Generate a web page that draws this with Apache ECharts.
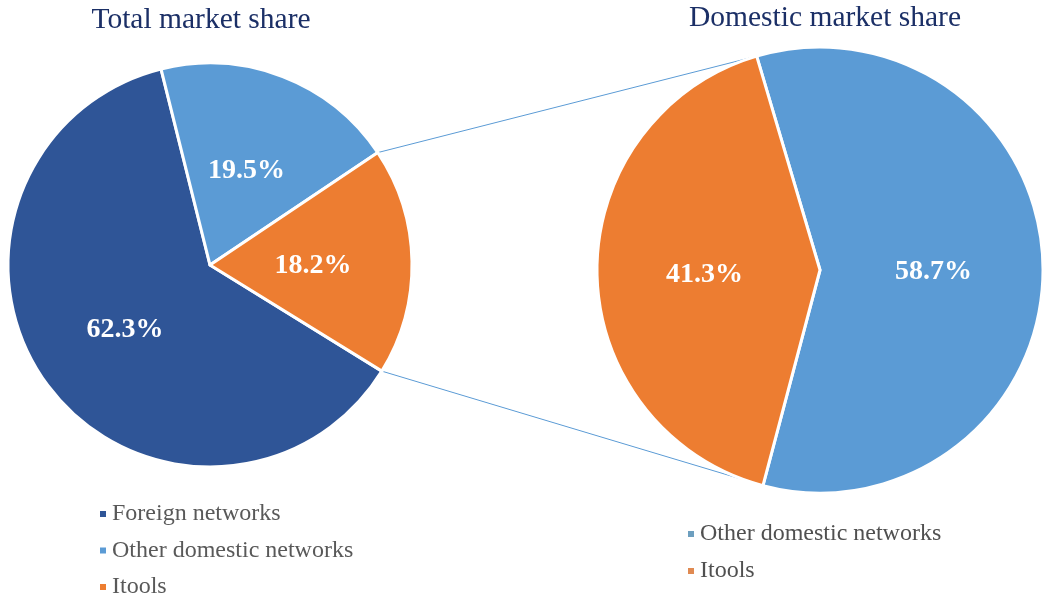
<!DOCTYPE html>
<html>
<head>
<meta charset="utf-8">
<script src="https://cdn.jsdelivr.net/npm/echarts@6/dist/echarts.min.js"></script>
<style>
  html, body { margin: 0; padding: 0; background: #fff; }
  #chart { width: 1045px; height: 598px; }
</style>
</head>
<body>
<div id="chart"></div>
<script>
// 数据
const totalNames = ['Foreign networks', 'Other domestic networks', 'Itools'];
const totalValues = [62.3, 19.5, 18.2];
const domesticNames = ['Other domestic networks', 'Itools'];
const domesticValues = [58.7, 41.3];

const colors = {
    'Foreign networks': '#2F5597',
    'Other domestic networks': '#5B9BD5',
    'Itools': '#ED7D31'
};

const FONT = '"Liberation Serif", "Times New Roman", serif';

// 两个饼图的布局
const leftPie = { cx: 210, cy: 265, r: 202, start: -31.7 };
const rightPie = { cx: 820, cy: 270, r: 223, start: 106.5 };

function sum(arr) {
    return arr.reduce((a, b) => a + b, 0);
}

// 饼图边缘上某个角度的点
function edgePoint(pie, angle) {
    const rad = angle * Math.PI / 180;
    return [pie.cx + pie.r * Math.cos(rad), pie.cy - pie.r * Math.sin(rad)];
}

// 左饼 Itools 扇区的两条边
const leftTop = leftPie.start - (totalValues[0] + totalValues[1]) / sum(totalValues) * 360;
const leftBottom = leftPie.start;
// 右饼 Itools 扇区的两条边
const rightTop = rightPie.start;
const rightBottom = rightPie.start - domesticValues[0] / sum(domesticValues) * 360;

const p1 = edgePoint(leftPie, leftTop);
const p2 = edgePoint(rightPie, rightTop);
const p3 = edgePoint(leftPie, leftBottom);
const p4 = edgePoint(rightPie, rightBottom);

function pieData(names, values) {
    return names.map((n, i) => ({
        name: n,
        value: values[i],
        itemStyle: { color: colors[n] }
    }));
}

const labelStyle = {
    show: true,
    position: 'inside',
    formatter: p => p.value.toFixed(1) + '%',
    color: '#fff',
    fontFamily: FONT,
    fontWeight: 'bold',
    fontSize: 28,
    offset: [-1, 3]
};

const chart = echarts.init(document.getElementById('chart'));

const option = {
    animation: false,
    title: [
        {
            text: 'Total market share',
            left: 196,
            top: 0,
            textAlign: 'center',
            textStyle: { fontFamily: FONT, fontWeight: 'normal', fontSize: 29.5, color: '#1b2f66' }
        },
        {
            text: 'Domestic market share',
            left: 820,
            top: -2,
            textAlign: 'center',
            textStyle: { fontFamily: FONT, fontWeight: 'normal', fontSize: 29.5, color: '#1b2f66' }
        }
    ],
    legend: [
        {
            orient: 'vertical',
            left: 93,
            top: 497,
            height: 120,
            icon: 'rect',
            itemWidth: 8,
            itemHeight: 8,
            itemGap: 12.5,
            selectedMode: false,
            data: totalNames,
            textStyle: { fontFamily: FONT, fontSize: 24, color: '#595959' }
        },
        {
            orient: 'vertical',
            left: 681,
            top: 517,
            icon: 'rect',
            itemWidth: 8,
            itemHeight: 8,
            itemGap: 13,
            selectedMode: false,
            data: [
                { name: domesticNames[0], itemStyle: { color: '#6d9fbf' } },
                { name: domesticNames[1], itemStyle: { color: '#e08a52' } }
            ],
            textStyle: { fontFamily: FONT, fontSize: 24, color: '#505050' }
        }
    ],
    graphic: [
        {
            type: 'line',
            shape: { x1: p1[0], y1: p1[1], x2: p2[0], y2: p2[1] },
            style: { stroke: '#5B9BD5', lineWidth: 1 },
            z: -1
        },
        {
            type: 'line',
            shape: { x1: p3[0], y1: p3[1], x2: p4[0], y2: p4[1] },
            style: { stroke: '#5B9BD5', lineWidth: 1 },
            z: -1
        }
    ],
    series: [
        {
            name: 'Total market share',
            type: 'pie',
            center: [leftPie.cx, leftPie.cy],
            radius: [0, leftPie.r],
            startAngle: leftPie.start,
            clockwise: true,
            avoidLabelOverlap: false,
            itemStyle: { borderColor: '#fff', borderWidth: 3 },
            label: labelStyle,
            labelLine: { show: false },
            emphasis: { disabled: true },
            data: pieData(totalNames, totalValues)
        },
        {
            name: 'Domestic market share',
            type: 'pie',
            center: [rightPie.cx, rightPie.cy],
            radius: [0, rightPie.r],
            startAngle: rightPie.start,
            clockwise: true,
            avoidLabelOverlap: false,
            itemStyle: { borderColor: '#fff', borderWidth: 3 },
            label: labelStyle,
            labelLine: { show: false },
            emphasis: { disabled: true },
            data: pieData(domesticNames, domesticValues)
        }
    ]
};

chart.setOption(option);

window.addEventListener('resize', () => {
    chart.resize();
});
</script>
</body>
</html>
